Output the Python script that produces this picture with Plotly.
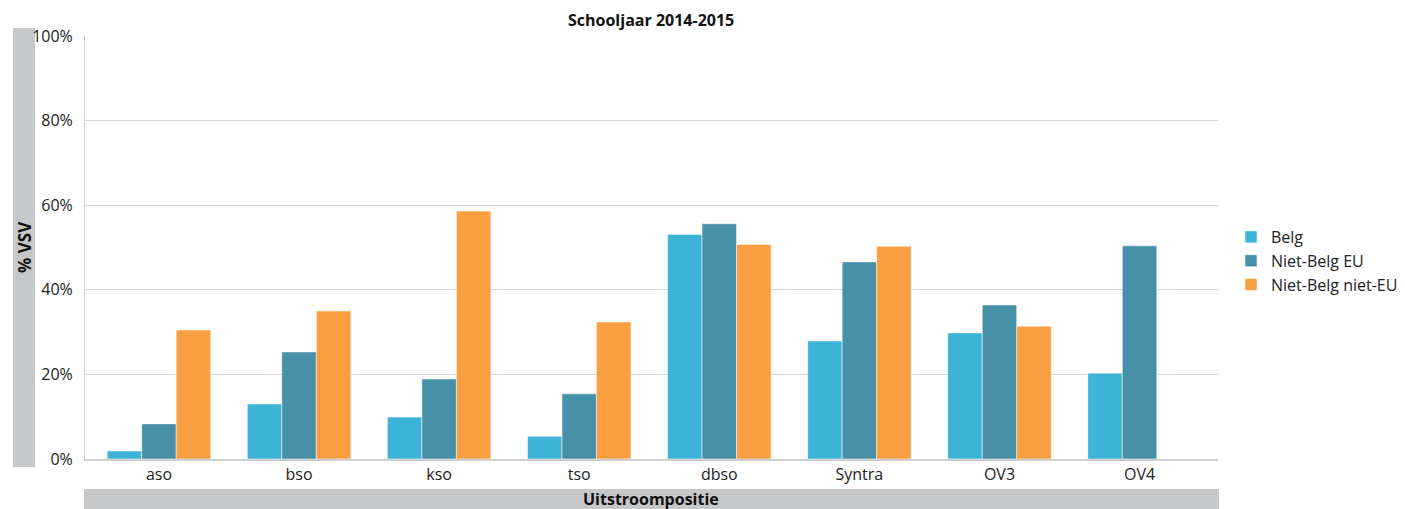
import plotly.graph_objects as go

categories = ["aso", "bso", "kso", "tso", "dbso", "Syntra", "OV3", "OV4"]
belg = [1.9, 13.0, 9.9, 5.4, 53.1, 27.9, 29.8, 20.3]
niet_belg_eu = [8.3, 25.3, 18.9, 15.4, 55.6, 46.6, 36.4, 50.4]
niet_belg_niet_eu = [30.5, 35.0, 58.6, 32.4, 50.7, 50.3, 31.4, None]
series_names = ["Belg", "Niet-Belg EU", "Niet-Belg niet-EU"]
colors = ["#3DB4D7", "#4791A8", "#F99F42"]
y_ticks = [0, 20, 40, 60, 80, 100]
y_tick_labels = ["0%", "20%", "40%", "60%", "80%", "100%"]

FONT = "Open Sans, Noto Sans, sans-serif"

fig = go.Figure()
for name, vals, col in zip(series_names, [belg, niet_belg_eu, niet_belg_niet_eu], colors):
    fig.add_trace(go.Bar(
        x=categories, y=vals, name=name,
        marker=dict(color=col, line=dict(color="rgba(255,255,255,0.5)", width=1)),
    ))

W, H = 1405, 509
L, R, T, B = 85, 187, 36, 50
pw, ph = W - L - R, H - T - B

def px(x):
    return (x - L) / pw

def py(y):
    return (H - B - y) / ph

fig.update_layout(
    width=W, height=H,
    margin=dict(l=L, r=R, t=T, b=B, autoexpand=False),
    barmode="group", bargap=0.261, bargroupgap=0,
    plot_bgcolor="white", paper_bgcolor="white",
    font=dict(family=FONT, size=16, color="#222222"),
    legend=dict(x=px(1231), y=py(261), xanchor="left", yanchor="middle",
                font=dict(size=16, family=FONT, color="#222222"),
                tracegroupgap=0, itemwidth=30, traceorder="normal"),
    xaxis=dict(range=[-0.528, 7.56], showgrid=False, showline=True,
               linecolor="#D0D0D0", linewidth=1.5, ticks="", tickfont=dict(size=16)),
    yaxis=dict(range=[0, 100], tickvals=y_ticks, ticktext=y_tick_labels,
               showgrid=True, gridcolor="#D5D5D5", gridwidth=1,
               showline=True, linecolor="#D0D0D0", linewidth=1,
               zeroline=False, ticks="", ticklabelstandoff=8, tickfont=dict(size=16)),
    shapes=[
        dict(type="rect", xref="paper", yref="paper",
             x0=px(13), x1=px(35), y0=py(467), y1=py(28),
             fillcolor="#C6C7C9", line=dict(width=0), layer="below"),
        dict(type="rect", xref="paper", yref="paper",
             x0=px(84), x1=px(1219), y0=py(509), y1=py(489),
             fillcolor="#C6C7C9", line=dict(width=0), layer="below"),
    ],
    annotations=[
        dict(text="<b>Schooljaar 2014-2015</b>", xref="paper", yref="paper",
             x=px(651), y=py(20), xanchor="center", yanchor="middle",
             showarrow=False, font=dict(size=16, family=FONT, color="#111111")),
        dict(text="<b>% VSV</b>", xref="paper", yref="paper",
             x=px(24), y=py(247), xanchor="center", yanchor="middle", textangle=-90,
             showarrow=False, font=dict(size=17, family=FONT, color="#111111")),
        dict(text="<b>Uitstroompositie</b>", xref="paper", yref="paper",
             x=px(651), y=py(499), xanchor="center", yanchor="middle",
             showarrow=False, font=dict(size=16, family=FONT, color="#111111")),
    ],
)

fig.write_html("out.html", config={"displayModeBar": False},
               post_script="document.body.style.margin='0';document.body.style.overflow='hidden';")
